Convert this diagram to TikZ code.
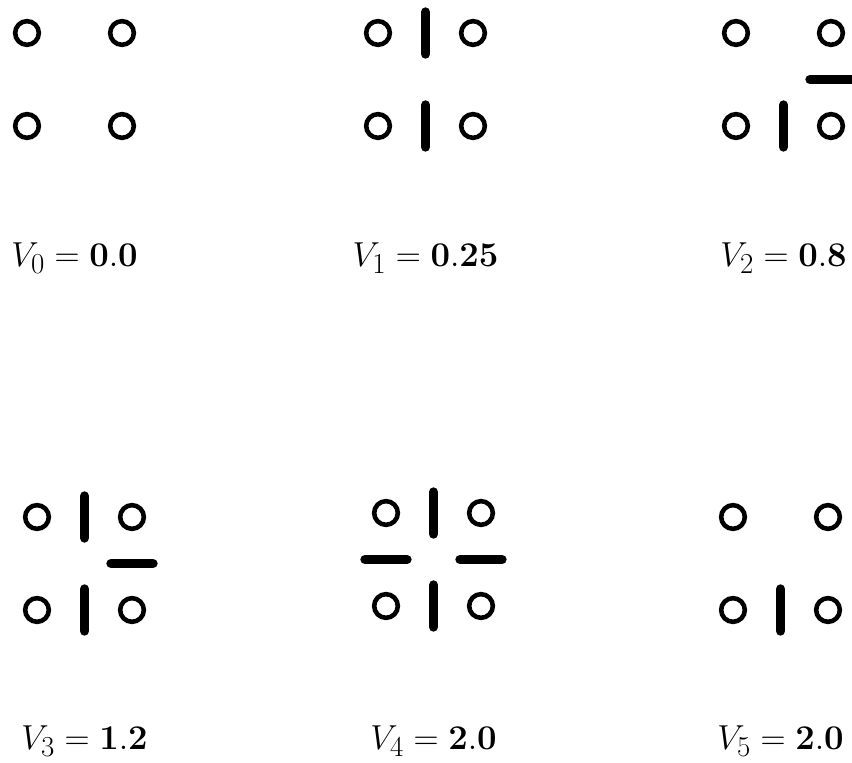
\documentclass[tikz,border=0pt]{standalone}
\usetikzlibrary{calc}
\tikzset{
  every picture/.style={line width=1.2pt},
  site/.style={circle, draw, line width=3.9pt, minimum size=0.71cm, inner sep=0pt},
  bond/.style={line width=8pt, line cap=round},
  vlabel/.style={anchor=base, font=\Huge, scale=1.19, inner sep=0pt},
}
\begin{document}
\begin{tikzpicture}
  \useasboundingbox (0,0) rectangle (25.56,22.89);
  % four sites per panel: a b on top, c d below
  \foreach \p/\x/\y in {0/0.81/21.90, 1/11.34/21.90, 2/22.08/21.90, 3/1.11/7.38, 4/11.58/7.50, 5/21.99/7.38} {
    \node[site] (a\p) at (\x,\y) {};
    \node[site] (b\p) at (\x+2.85,\y) {};
    \node[site] (c\p) at (\x,\y-2.79) {};
    \node[site] (d\p) at (\x+2.85,\y-2.79) {};
  }
  % vertical bonds between left and right sites
  \foreach \u/\v in {a1/b1, c1/d1, c2/d2, a3/b3, c3/d3, a4/b4, c4/d4, c5/d5}
    \draw[bond] ($(\u)!0.5!(\v)+(0,0.63)$) -- ($(\u)!0.5!(\v)-(0,0.63)$);
  % horizontal bonds between upper and lower sites
  \foreach \u/\v in {b2/d2, b3/d3, a4/c4, b4/d4}
    \draw[bond] ($(\u)!0.5!(\v)-(0.63,0)$) -- ($(\u)!0.5!(\v)+(0.63,0)$);
  \node[vlabel] (v0) at (2.235,14.90) {$V_0 = \mathbf{0.0}$};
  \node[vlabel] (v1) at (12.765,14.90) {$V_1 = \mathbf{0.25}$};
  \node[vlabel] (v2) at (23.505,14.90) {$V_2 = \mathbf{0.8}$};
  \node[vlabel] (v3) at (2.535,0.40) {$V_3 = \mathbf{1.2}$};
  \node[vlabel] (v4) at (13.005,0.40) {$V_4 = \mathbf{2.0}$};
  \node[vlabel] (v5) at (23.415,0.40) {$V_5 = \mathbf{2.0}$};
\end{tikzpicture}
\end{document}
